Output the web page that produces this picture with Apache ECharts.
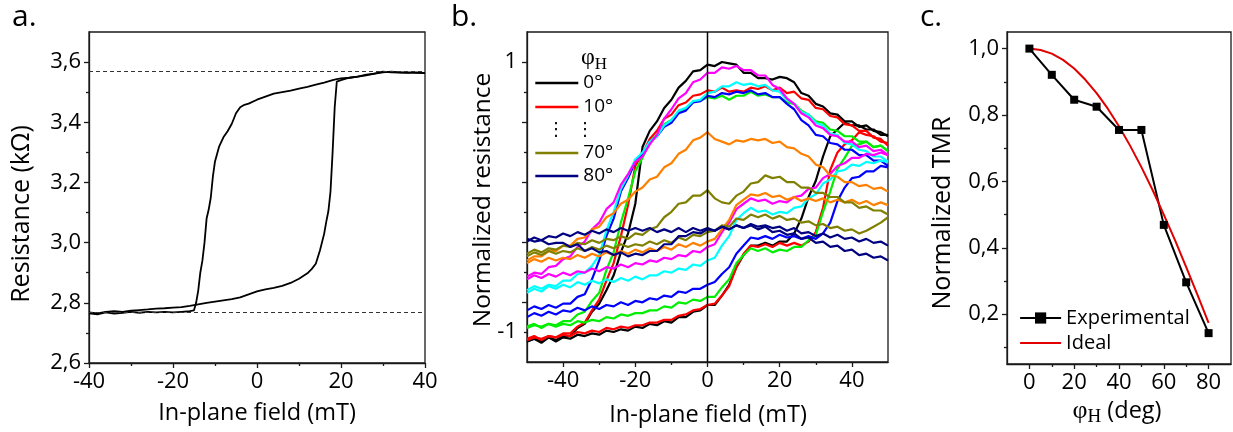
<!DOCTYPE html>
<html><head><meta charset="utf-8">
<script src="https://cdn.jsdelivr.net/npm/echarts@6/dist/echarts.min.js"></script>
<style>html,body{margin:0;padding:0;background:#fff}#c{width:1233px;height:432px}</style>
</head><body><div id="c"></div>
<script>
// ---------- Panel a: hysteresis loop ----------
const fieldA_down = [-40,-38,-36,-34,-32,-30,-28,-26,-24,-22,-20,-18,-16,-15,-14.5,-14,-13.5,-13,-12.5,-12,-11.5,-11,-10.5,-10,-9,-8,-7,-6,-5,-4,-3,-2,0,2,4,6,8,10,12,14,16,18,19,20,22,24,26,28,30,32,34,36,38,40];
const resA_down = [2.765,2.762,2.768,2.764,2.767,2.770,2.767,2.770,2.768,2.770,2.768,2.770,2.772,2.775,2.800,2.840,2.900,2.940,3.000,3.080,3.110,3.150,3.220,3.270,3.320,3.350,3.370,3.395,3.430,3.450,3.458,3.462,3.475,3.485,3.495,3.500,3.505,3.512,3.518,3.525,3.532,3.540,3.543,3.546,3.548,3.552,3.558,3.562,3.566,3.568,3.566,3.564,3.566,3.563];
const fieldA_up = [-40,-38,-36,-34,-32,-30,-28,-26,-24,-22,-20,-18,-16,-14,-12,-10,-8,-6,-4,-2,0,2,4,6,8,10,12,13,14,15,16,16.5,17,17.5,18,18.5,19,20,22,24,26,28,30,32,34,36,38,40];
const resA_up = [2.768,2.765,2.770,2.772,2.770,2.774,2.776,2.778,2.781,2.782,2.784,2.786,2.790,2.795,2.800,2.804,2.808,2.812,2.818,2.828,2.838,2.845,2.850,2.856,2.866,2.880,2.898,2.912,2.930,2.975,3.030,3.070,3.105,3.170,3.300,3.450,3.535,3.540,3.548,3.552,3.556,3.562,3.568,3.566,3.565,3.566,3.564,3.563];
const resA_levels = [3.567, 2.771];
const tickA_x = [-40,-20,0,20,40], minorA_x = [-30,-10,10,30];
const tickA_y = [2.6,2.8,3.0,3.2,3.4,3.6], minorA_y = [2.7,2.9,3.1,3.3,3.5];

// ---------- Panel b: normalized loops for several angles ----------
const fieldB = [-50,-48,-46,-44,-42,-40,-38,-36,-34,-32,-30,-28,-26,-24,-22,-20,-18,-16,-14,-12,-10,-8,-6,-4,-2,0,2,4,6,8,10,12,14,16,18,20,22,24,26,28,30,32,34,36,38,40,42,44,46,48,50];
const anglesB = ['0°','10°','20°','30°','40°','50°','60°','70°','80°'];
const down0 = [-1.07,-1.05,-1.08,-1.04,-1.06,-1.03,-1.03,-0.97,-0.94,-0.85,-0.79,-0.69,-0.58,-0.41,-0.27,-0.05,0.37,0.49,0.56,0.66,0.72,0.81,0.86,0.93,0.94,0.98,0.97,1.0,0.99,0.98,0.92,0.92,0.88,0.88,0.87,0.89,0.88,0.85,0.77,0.75,0.69,0.67,0.62,0.61,0.56,0.56,0.52,0.53,0.49,0.48,0.45];
const up0 = [-1.07,-1.05,-1.07,-1.04,-1.07,-1.04,-1.05,-1.02,-1.03,-1.01,-1.02,-0.99,-1.0,-0.98,-0.99,-0.96,-0.97,-0.94,-0.95,-0.92,-0.93,-0.89,-0.89,-0.85,-0.84,-0.8,-0.8,-0.73,-0.65,-0.52,-0.43,-0.36,-0.36,-0.34,-0.36,-0.33,-0.33,-0.27,-0.16,0.0,0.12,0.3,0.45,0.5,0.55,0.53,0.53,0.5,0.5,0.46,0.46];
const down10 = [-1.05,-1.03,-1.06,-1.03,-1.04,-1.01,-1.01,-0.96,-0.93,-0.84,-0.76,-0.62,-0.49,-0.29,-0.06,0.23,0.32,0.43,0.49,0.58,0.61,0.68,0.7,0.75,0.76,0.79,0.78,0.81,0.78,0.79,0.78,0.81,0.8,0.82,0.79,0.81,0.77,0.78,0.73,0.72,0.66,0.65,0.6,0.59,0.54,0.53,0.49,0.49,0.44,0.43,0.38];
const up10 = [-1.06,-1.04,-1.05,-1.03,-1.04,-1.02,-1.03,-1.0,-1.01,-0.99,-1.0,-0.97,-0.98,-0.96,-0.97,-0.95,-0.95,-0.93,-0.93,-0.91,-0.91,-0.88,-0.87,-0.84,-0.83,-0.8,-0.79,-0.73,-0.66,-0.52,-0.42,-0.36,-0.37,-0.35,-0.37,-0.34,-0.36,-0.34,-0.36,-0.33,-0.26,-0.08,0.2,0.33,0.39,0.42,0.48,0.46,0.45,0.41,0.4];
const down20 = [-0.96,-0.94,-0.97,-0.94,-0.95,-0.92,-0.92,-0.87,-0.85,-0.77,-0.71,-0.54,-0.41,-0.19,-0.01,0.19,0.29,0.41,0.46,0.54,0.57,0.63,0.65,0.71,0.71,0.74,0.73,0.75,0.72,0.75,0.75,0.78,0.75,0.76,0.74,0.74,0.7,0.69,0.64,0.61,0.56,0.55,0.5,0.49,0.45,0.45,0.41,0.41,0.37,0.38,0.34];
const up20 = [-0.97,-0.95,-0.96,-0.94,-0.96,-0.94,-0.95,-0.92,-0.93,-0.91,-0.92,-0.89,-0.9,-0.87,-0.88,-0.86,-0.86,-0.84,-0.84,-0.81,-0.82,-0.78,-0.79,-0.76,-0.77,-0.74,-0.74,-0.67,-0.61,-0.49,-0.43,-0.38,-0.4,-0.38,-0.41,-0.39,-0.4,-0.37,-0.37,-0.32,-0.28,-0.11,0.04,0.21,0.29,0.38,0.39,0.41,0.37,0.38,0.34];
const down30 = [-0.84,-0.81,-0.83,-0.8,-0.82,-0.79,-0.79,-0.74,-0.72,-0.61,-0.47,-0.29,-0.16,0.04,0.14,0.26,0.32,0.41,0.45,0.52,0.55,0.62,0.64,0.7,0.71,0.75,0.74,0.77,0.76,0.78,0.77,0.79,0.76,0.77,0.74,0.74,0.69,0.65,0.57,0.53,0.46,0.45,0.4,0.39,0.35,0.35,0.31,0.31,0.27,0.27,0.23];
const up30 = [-0.89,-0.86,-0.88,-0.85,-0.87,-0.84,-0.85,-0.82,-0.84,-0.81,-0.83,-0.8,-0.81,-0.78,-0.8,-0.77,-0.78,-0.75,-0.76,-0.73,-0.74,-0.7,-0.71,-0.68,-0.68,-0.65,-0.63,-0.57,-0.52,-0.42,-0.36,-0.3,-0.31,-0.29,-0.31,-0.28,-0.3,-0.29,-0.31,-0.29,-0.31,-0.27,-0.19,-0.03,0.07,0.14,0.15,0.19,0.19,0.23,0.22];
const down40 = [-0.69,-0.66,-0.68,-0.65,-0.66,-0.62,-0.62,-0.57,-0.56,-0.51,-0.43,-0.25,-0.11,0.06,0.16,0.28,0.33,0.41,0.45,0.53,0.57,0.64,0.66,0.71,0.72,0.77,0.78,0.82,0.82,0.85,0.83,0.84,0.82,0.83,0.79,0.78,0.72,0.69,0.63,0.61,0.55,0.53,0.47,0.46,0.4,0.39,0.35,0.34,0.3,0.3,0.26];
const up40 = [-0.71,-0.68,-0.7,-0.66,-0.68,-0.65,-0.67,-0.63,-0.65,-0.62,-0.64,-0.61,-0.63,-0.6,-0.62,-0.59,-0.61,-0.58,-0.58,-0.55,-0.56,-0.53,-0.54,-0.5,-0.51,-0.47,-0.45,-0.36,-0.29,-0.17,-0.12,-0.08,-0.11,-0.1,-0.13,-0.11,-0.12,-0.08,-0.07,-0.01,0.02,0.1,0.13,0.19,0.2,0.24,0.23,0.26,0.25,0.27,0.26];
const down50 = [-0.59,-0.56,-0.57,-0.52,-0.51,-0.46,-0.44,-0.37,-0.33,-0.24,-0.19,-0.09,-0.04,0.09,0.17,0.26,0.3,0.39,0.46,0.58,0.65,0.73,0.77,0.85,0.87,0.92,0.92,0.96,0.95,0.97,0.94,0.94,0.9,0.9,0.83,0.8,0.73,0.69,0.62,0.59,0.53,0.51,0.46,0.45,0.41,0.41,0.37,0.38,0.34,0.35,0.31];
const up50 = [-0.61,-0.58,-0.6,-0.57,-0.59,-0.56,-0.58,-0.55,-0.56,-0.53,-0.55,-0.52,-0.53,-0.5,-0.52,-0.49,-0.5,-0.47,-0.48,-0.45,-0.46,-0.43,-0.44,-0.4,-0.41,-0.37,-0.35,-0.26,-0.19,-0.09,-0.05,-0.01,-0.03,-0.02,-0.05,-0.03,-0.04,0.0,0.01,0.06,0.07,0.14,0.17,0.23,0.25,0.29,0.29,0.32,0.31,0.33,0.31];
const down60 = [-0.47,-0.44,-0.44,-0.4,-0.4,-0.36,-0.36,-0.31,-0.3,-0.24,-0.22,-0.15,-0.12,-0.05,-0.02,0.04,0.07,0.13,0.15,0.22,0.25,0.32,0.35,0.42,0.44,0.48,0.43,0.41,0.39,0.42,0.41,0.43,0.42,0.43,0.4,0.41,0.37,0.36,0.32,0.3,0.24,0.22,0.16,0.15,0.11,0.11,0.08,0.09,0.06,0.07,0.04];
const up60 = [-0.49,-0.46,-0.48,-0.45,-0.47,-0.45,-0.46,-0.43,-0.45,-0.42,-0.44,-0.41,-0.43,-0.4,-0.42,-0.39,-0.41,-0.38,-0.4,-0.37,-0.39,-0.35,-0.37,-0.34,-0.36,-0.33,-0.31,-0.24,-0.17,-0.06,-0.02,0.02,0.01,0.03,0.0,0.01,-0.02,0.0,-0.03,-0.01,-0.03,-0.01,-0.04,-0.02,-0.04,-0.02,-0.05,-0.03,-0.06,-0.04,-0.06];
const down70 = [-0.42,-0.39,-0.41,-0.38,-0.39,-0.36,-0.37,-0.34,-0.35,-0.32,-0.34,-0.31,-0.32,-0.29,-0.31,-0.27,-0.28,-0.24,-0.22,-0.15,-0.11,-0.05,-0.04,0.01,0.01,0.05,-0.01,-0.04,-0.05,0.01,0.04,0.1,0.11,0.16,0.14,0.15,0.11,0.11,0.07,0.07,0.03,0.03,0.0,0.0,-0.04,-0.04,-0.08,-0.07,-0.1,-0.1,-0.13];
const up70 = [-0.44,-0.41,-0.43,-0.4,-0.42,-0.4,-0.41,-0.38,-0.4,-0.37,-0.39,-0.36,-0.38,-0.35,-0.37,-0.35,-0.36,-0.33,-0.35,-0.32,-0.34,-0.3,-0.32,-0.28,-0.29,-0.26,-0.25,-0.21,-0.22,-0.16,-0.17,-0.13,-0.15,-0.13,-0.16,-0.14,-0.17,-0.16,-0.19,-0.18,-0.21,-0.2,-0.23,-0.22,-0.25,-0.24,-0.27,-0.25,-0.22,-0.19,-0.15];
const down80 = [-0.31,-0.33,-0.32,-0.35,-0.34,-0.34,-0.37,-0.35,-0.4,-0.38,-0.41,-0.4,-0.43,-0.41,-0.44,-0.42,-0.43,-0.4,-0.4,-0.35,-0.35,-0.29,-0.29,-0.26,-0.27,-0.24,-0.25,-0.22,-0.24,-0.21,-0.23,-0.2,-0.22,-0.21,-0.23,-0.22,-0.25,-0.23,-0.27,-0.26,-0.29,-0.27,-0.3,-0.28,-0.31,-0.3,-0.33,-0.31,-0.34,-0.33,-0.36];
const up80 = [-0.33,-0.3,-0.32,-0.29,-0.3,-0.27,-0.29,-0.26,-0.28,-0.25,-0.27,-0.24,-0.26,-0.23,-0.25,-0.23,-0.25,-0.23,-0.26,-0.24,-0.26,-0.23,-0.26,-0.23,-0.25,-0.23,-0.25,-0.22,-0.24,-0.21,-0.23,-0.21,-0.24,-0.22,-0.26,-0.25,-0.28,-0.27,-0.31,-0.3,-0.34,-0.33,-0.37,-0.36,-0.4,-0.39,-0.43,-0.42,-0.45,-0.44,-0.47];
const downB = [down0,down10,down20,down30,down40,down50,down60,down70,down80];
const upB = [up0,up10,up20,up30,up40,up50,up60,up70,up80];
const tickB_x = [-40,-20,0,20,40], minorB_x = [-30,-10,10,30];
const rangeB_y = [-1.2222, 1.2222];
const tickB_y = [1,0.5556,0.1111,-0.3333,-0.7778], minorB_y = [0.7778,0.3333,-0.1111,-0.5556,-1];
const labelB_y = [1,-1];

// ---------- Panel c: TMR vs angle ----------
const phiC = [0,10,20,30,40,50,60,70,80];
const tmrExp = [1.0,0.921,0.846,0.825,0.755,0.755,0.469,0.296,0.143];
const phiIdeal = [0,5,10,15,20,25,30,35,40,45,50,55,60,65,70,75,80];
const tmrIdeal = [1.0,0.996,0.985,0.966,0.94,0.906,0.866,0.819,0.766,0.707,0.643,0.574,0.5,0.423,0.342,0.259,0.174];
const tickC_x = [0,20,40,60,80], minorC_x = [10,30,50,70];
const tickC_y = [0.2,0.4,0.6,0.8,1.0], minorC_y = [0.1,0.3,0.5,0.7,0.9];

// ---------- styling ----------
const colorsB = ['#000000','#ff0000','#00ee00','#0000ff','#00ffff','#ff00ff','#ff8000','#808000','#000080'];
const FONT = "'Open Sans', 'Liberation Sans', sans-serif";
const SERIF = "'Liberation Serif', 'DejaVu Serif', serif";
const AX = '#1a1a1a';
const comma = v => v.toFixed(1).replace('.', ',');

function majorAxis(gi, pos, min, max, ticks, labels, fmt) {
  return {
    type: 'value', gridIndex: gi, position: pos, min: min, max: max,
    axisLine: {show: true, onZero: false, lineStyle: {color: AX, width: 1.3}},
    axisTick: {show: true, inside: false, length: 5, customValues: ticks, lineStyle: {color: AX, width: 1.3}},
    axisLabel: {show: true, customValues: labels, formatter: fmt, margin: 8, color: '#000', fontFamily: FONT, fontSize: 22},
    splitLine: {show: false}
  };
}
function minorAxis(gi, pos, min, max, ticks) {
  return {
    type: 'value', gridIndex: gi, position: pos, min: min, max: max,
    axisLine: {show: false, onZero: false},
    axisTick: {show: true, inside: false, length: 3, customValues: ticks, lineStyle: {color: AX, width: 1.3}},
    axisLabel: {show: false},
    splitLine: {show: false}
  };
}

const xAxis = [
  majorAxis(0, 'bottom', -40, 40, tickA_x, tickA_x, v => String(v)),
  minorAxis(0, 'bottom', -40, 40, minorA_x),
  majorAxis(1, 'bottom', -50, 50, tickB_x, tickB_x, v => String(v)),
  minorAxis(1, 'bottom', -50, 50, minorB_x),
  majorAxis(2, 'bottom', -10, 90, tickC_x, tickC_x, v => String(v)),
  minorAxis(2, 'bottom', -10, 90, minorC_x)
];
const yAxis = [
  majorAxis(0, 'left', 2.6, 3.7, tickA_y, tickA_y, comma),
  minorAxis(0, 'left', 2.6, 3.7, minorA_y),
  majorAxis(1, 'left', rangeB_y[0], rangeB_y[1], tickB_y, labelB_y, v => String(Math.round(v))),
  minorAxis(1, 'left', rangeB_y[0], rangeB_y[1], minorB_y),
  majorAxis(2, 'left', 0.05, 1.05, tickC_y, tickC_y, comma),
  minorAxis(2, 'left', 0.05, 1.05, minorC_y)
];
yAxis[2].axisLabel.margin = 10;

const gridStyle = {show: true, borderColor: AX, borderWidth: 1.3, backgroundColor: 'transparent'};
const grid = [
  Object.assign({left: 89, top: 32, width: 336, height: 331}, gridStyle),
  Object.assign({left: 527, top: 32, width: 361, height: 330}, gridStyle),
  Object.assign({left: 1007, top: 32, width: 224, height: 332}, gridStyle)
];

const series = [];
const pairs = (xs, ys) => xs.map((x, i) => [x, ys[i]]);
// panel a
series.push({
  type: 'line', xAxisIndex: 0, yAxisIndex: 0, name: 'loopA', data: pairs(fieldA_down, resA_down),
  symbol: 'none', lineStyle: {color: '#000', width: 1.8},
  markLine: {silent: true, symbol: ['none', 'none'], label: {show: false},
    lineStyle: {color: '#333', type: [4, 3], width: 1}, data: resA_levels.map(v => ({yAxis: v}))}
});
series.push({type: 'line', xAxisIndex: 0, yAxisIndex: 0, name: 'loopA', data: pairs(fieldA_up, resA_up),
  symbol: 'none', lineStyle: {color: '#000', width: 1.8}});
// panel b
anglesB.forEach((a, k) => {
  [downB[k], upB[k]].forEach(arr => {
    series.push({type: 'line', xAxisIndex: 2, yAxisIndex: 2, name: a, data: pairs(fieldB, arr),
      symbol: 'none', itemStyle: {color: colorsB[k]}, lineStyle: {color: colorsB[k], width: 2.2}});
  });
});
series.push({type: 'line', xAxisIndex: 2, yAxisIndex: 2, name: 'zeroLine', data: [[0, rangeB_y[0]], [0, rangeB_y[1]]],
  symbol: 'none', lineStyle: {color: '#000', width: 1.5}, z: 5});
// panel c
series.push({type: 'line', xAxisIndex: 4, yAxisIndex: 4, name: 'Experimental', data: pairs(phiC, tmrExp),
  symbol: 'rect', symbolSize: 8, itemStyle: {color: '#000'}, lineStyle: {color: '#000', width: 2}});
series.push({type: 'line', xAxisIndex: 4, yAxisIndex: 4, name: 'Ideal', data: pairs(phiIdeal, tmrIdeal),
  symbol: 'none', itemStyle: {color: '#e00000'}, lineStyle: {color: '#e00000', width: 2}});

const legTxtB = {color: '#000', fontFamily: FONT, fontSize: 19, lineHeight: 20};
const hideSym = {opacity: 0};
const legLine = {width: 2.6};
const legend = [
  {data: ['0°', '10°'], orient: 'vertical', left: 534, top: 73, padding: 0, itemWidth: 43, itemHeight: 14, itemGap: 4,
    itemStyle: hideSym, lineStyle: legLine, textStyle: legTxtB, selectedMode: false},
  {data: ['70°', '80°'], orient: 'vertical', left: 534, top: 143, padding: 0, itemWidth: 43, itemHeight: 14, itemGap: 3,
    itemStyle: hideSym, lineStyle: legLine, textStyle: legTxtB, selectedMode: false},
  {data: ['Experimental', {name: 'Ideal', itemStyle: hideSym}], orient: 'vertical', left: 1019, top: 308, padding: 0,
    itemWidth: 41, itemHeight: 14, itemGap: 5, lineStyle: {width: 2.2},
    textStyle: {color: '#000', fontFamily: FONT, fontSize: 20, lineHeight: 20}, selectedMode: false}
];

function txt(x, y, text, size, rot, extra) {
  return {type: 'text', x: x, y: y, rotation: rot || 0, z: 50,
    style: Object.assign({text: text, align: 'center', verticalAlign: 'middle', fontFamily: FONT, fontSize: size, fill: '#000'}, extra || {})};
}
const phiRich = {
  p: {fontFamily: SERIF, fontSize: 26, lineHeight: 32},
  s: {fontFamily: SERIF, fontSize: 19, lineHeight: 32, verticalAlign: 'bottom'}
};
const graphic = [
  {type: 'text', left: 12, top: 2, style: {text: 'a.', fontFamily: FONT, fontSize: 30, fill: '#000'}},
  {type: 'text', left: 451, top: 2, style: {text: 'b.', fontFamily: FONT, fontSize: 30, fill: '#000'}},
  {type: 'text', left: 920, top: 2, style: {text: 'c.', fontFamily: FONT, fontSize: 30, fill: '#000'}},
  txt(22, 214, 'Resistance (kΩ)', 25, Math.PI / 2),
  txt(483, 200, 'Normalized resistance', 24.5, Math.PI / 2),
  txt(943, 213, 'Normalized TMR', 25, Math.PI / 2),
  txt(257, 413, 'In-plane field (mT)', 23.5, 0),
  txt(708, 415, 'In-plane field (mT)', 23.5, 0),
  txt(1117, 411, '{p|φ}{s|H} (deg)', 23.5, 0, {rich: phiRich, lineHeight: 32}),
  txt(594, 58, '{p|φ}{s|H}', 20, 0, {rich: {p: {fontFamily: SERIF, fontSize: 24, lineHeight: 30}, s: {fontFamily: SERIF, fontSize: 17, lineHeight: 30, verticalAlign: 'bottom'}}}),
  txt(556, 130, '⋮', 18, 0, {fontFamily: "'DejaVu Sans'"}),
  txt(585, 130, '⋮', 18, 0, {fontFamily: "'DejaVu Sans'"})
];

const chart = echarts.init(document.getElementById('c'), null, {renderer: 'canvas'});
chart.setOption({animation: false, backgroundColor: '#fff', grid, xAxis, yAxis, series, legend, graphic});
</script></body></html>
